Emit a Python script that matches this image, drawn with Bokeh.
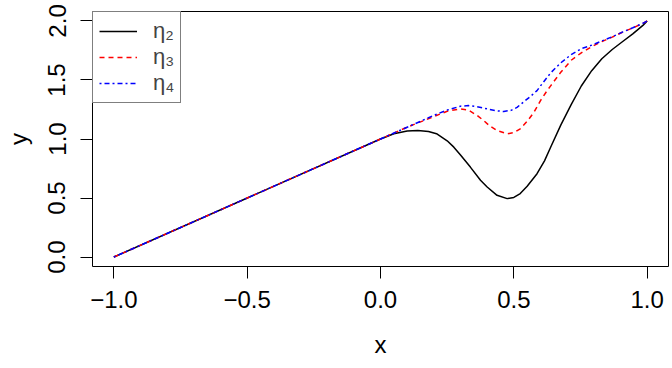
from bokeh.plotting import figure
from bokeh.models import Range1d, FixedTicker, Legend, LegendItem
from bokeh.embed import file_html
from bokeh.resources import INLINE

# ---- data ----
x_eta2 = [-1.0, 0.0, 0.05, 0.10, 0.14, 0.18, 0.21, 0.25, 0.275, 0.30, 0.337, 0.375, 0.40,
          0.437, 0.475, 0.50, 0.524, 0.55, 0.587, 0.615, 0.638, 0.676, 0.715, 0.753, 0.792,
          0.83, 0.869, 0.907, 0.946, 0.984, 1.0]
y_eta2 = [0.0, 1.0, 1.045, 1.068, 1.072, 1.064, 1.045, 0.985, 0.931, 0.865, 0.762, 0.650,
          0.593, 0.523, 0.495, 0.505, 0.538, 0.60, 0.706, 0.815, 0.93, 1.117, 1.291, 1.449,
          1.579, 1.68, 1.758, 1.824, 1.891, 1.962, 2.0]

x_eta3 = [-1.0, 0.0, 0.10, 0.20, 0.25, 0.30, 0.33, 0.362, 0.387, 0.41, 0.437, 0.475, 0.50,
          0.524, 0.55, 0.575, 0.60, 0.625, 0.638, 0.676, 0.715, 0.753, 0.792, 0.83, 0.869,
          0.907, 0.946, 0.984, 1.0]
y_eta3 = [0.0, 1.0, 1.10, 1.19, 1.235, 1.255, 1.245, 1.20, 1.156, 1.11, 1.072, 1.044, 1.055,
          1.086, 1.15, 1.225, 1.325, 1.41, 1.45, 1.565, 1.667, 1.73, 1.782, 1.825, 1.863,
          1.904, 1.941, 1.979, 2.0]

x_eta4 = [-1.0, 0.0, 0.10, 0.20, 0.25, 0.30, 0.33, 0.362, 0.40, 0.43, 0.462, 0.49, 0.512,
          0.54, 0.562, 0.587, 0.60, 0.638, 0.676, 0.715, 0.753, 0.792, 0.83, 0.869, 0.907,
          0.946, 0.984, 1.0]
y_eta4 = [0.0, 1.0, 1.10, 1.20, 1.245, 1.278, 1.283, 1.274, 1.255, 1.24, 1.233, 1.243, 1.268,
          1.32, 1.36, 1.41, 1.45, 1.56, 1.645, 1.715, 1.765, 1.795, 1.83, 1.866, 1.905,
          1.942, 1.98, 2.0]

series_labels = ["η₂", "η₃", "η₄"]
x_ticks = [-1.0, -0.5, 0.0, 0.5, 1.0]
x_tick_labels = ["\u22121.0", "\u22120.5", "0.0", "0.5", "1.0"]
y_ticks = [0.0, 0.5, 1.0, 1.5, 2.0]
y_tick_labels = ["0.0", "0.5", "1.0", "1.5", "2.0"]

FONT = "Liberation Sans"

p = figure(width=672, height=368, output_backend="svg", toolbar_location=None,
           x_range=Range1d(-1.08, 1.08), y_range=Range1d(-0.08, 2.08),
           min_border_left=92, min_border_right=4, min_border_top=11, min_border_bottom=102)
p.background_fill_color = "white"
p.border_fill_color = "white"
p.outline_line_color = "black"
p.outline_line_width = 1
p.xgrid.visible = False
p.ygrid.visible = False

r2 = p.line(x_eta2, y_eta2, line_color="black", line_width=1.5)
r3 = p.line(x_eta3, y_eta3, line_color="#ff0000", line_width=1.5, line_dash="5 4")
r4 = p.line(x_eta4, y_eta4, line_color="#0000ff", line_width=1.5, line_dash="2 3 5 3")

for ax, ticks, labels in ((p.xaxis[0], x_ticks, x_tick_labels), (p.yaxis[0], y_ticks, y_tick_labels)):
    ax.ticker = FixedTicker(ticks=ticks)
    ax.major_label_overrides = {t: l for t, l in zip(ticks, labels)}
    ax.axis_line_color = None
    ax.major_tick_line_color = "black"
    ax.major_tick_line_width = 1
    ax.major_tick_out = 12
    ax.major_tick_in = 0
    ax.minor_tick_line_color = None
    ax.major_label_text_font = FONT
    ax.major_label_text_font_size = "24px"
    ax.major_label_text_color = "black"
    ax.axis_label_text_font = FONT
    ax.axis_label_text_font_size = "24px"
    ax.axis_label_text_font_style = "normal"
    ax.axis_label_text_color = "black"

p.xaxis[0].axis_label = "x"
p.yaxis[0].axis_label = "y"
p.xaxis[0].major_label_standoff = 12
p.xaxis[0].axis_label_standoff = 20
p.yaxis[0].major_label_orientation = "vertical"
p.yaxis[0].major_label_standoff = 15
p.yaxis[0].axis_label_standoff = 14

legend = Legend(items=[LegendItem(label=series_labels[0], renderers=[r2]),
                       LegendItem(label=series_labels[1], renderers=[r3]),
                       LegendItem(label=series_labels[2], renderers=[r4])],
                location="top_left", margin=0, padding=6, spacing=0,
                glyph_width=38, glyph_height=16, label_height=16, label_standoff=16,
                label_text_font=FONT, label_text_font_size="22px",
                border_line_color="black", border_line_width=1,
                background_fill_color="white", background_fill_alpha=1.0)
p.add_layout(legend, "center")

open("out.html", "w").write(file_html(p, INLINE))
